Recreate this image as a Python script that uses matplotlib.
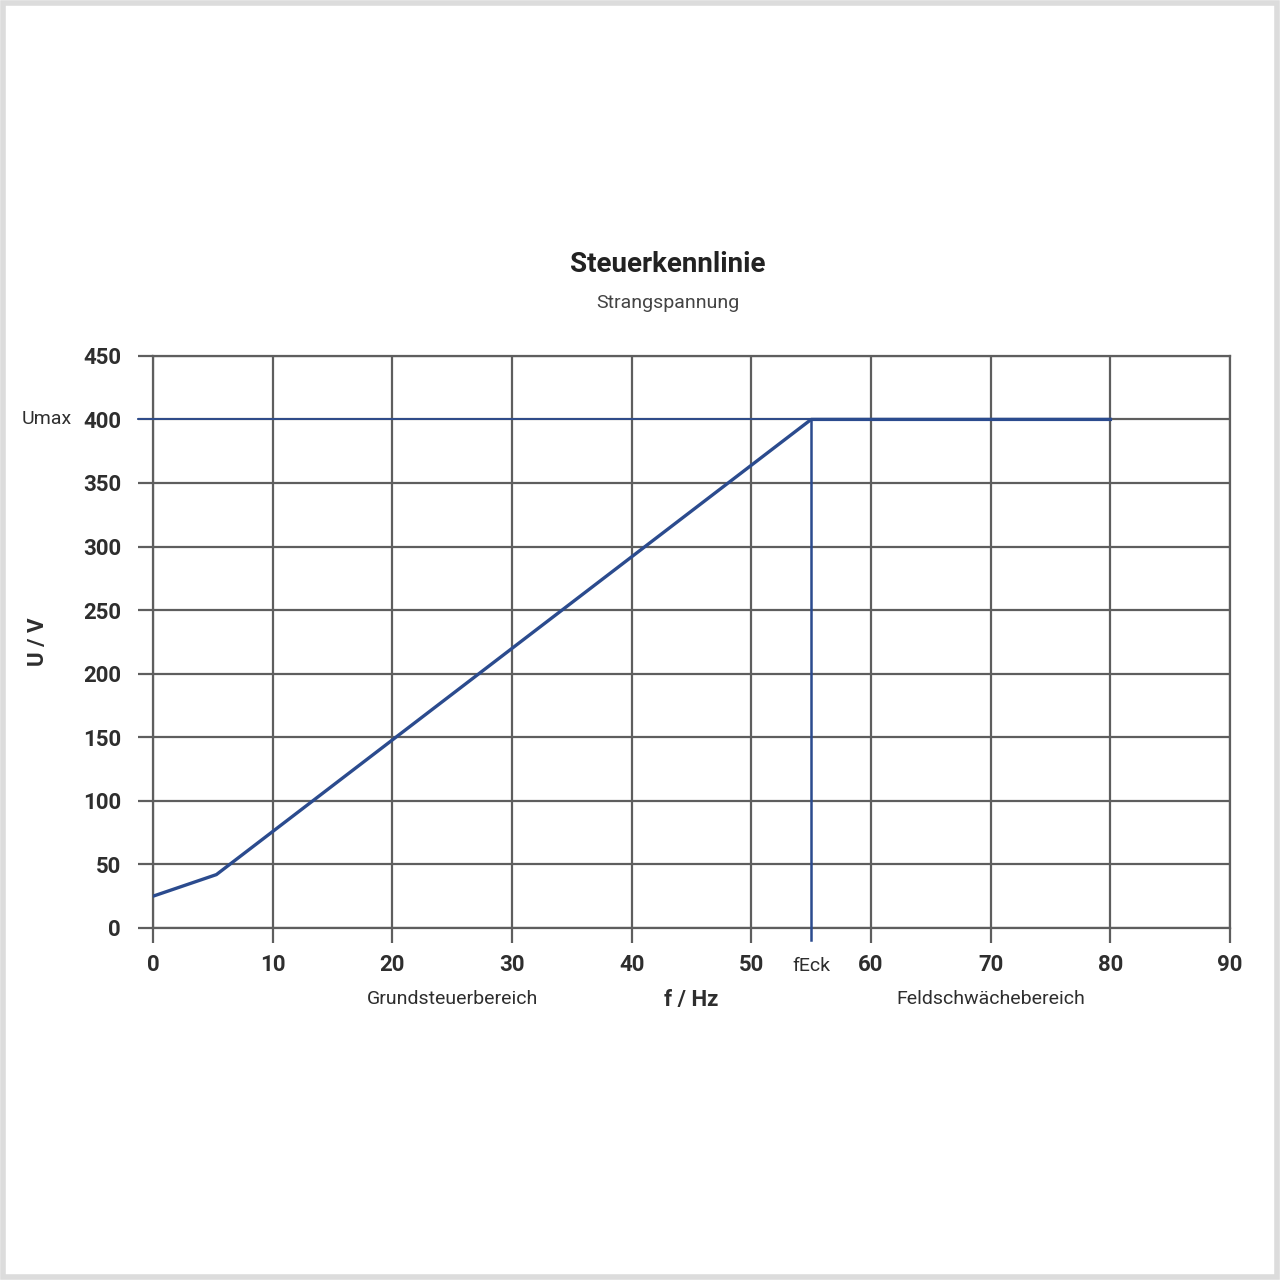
import matplotlib.pyplot as plt
from matplotlib.patches import Rectangle

# Kennlinie U(f)
freq = [0, 5.3, 55, 80]
volt = [25, 42, 400, 400]
f_eck = 55
u_max = 400
x_ticks = [0, 10, 20, 30, 40, 50, 60, 70, 80, 90]
y_ticks = [0, 50, 100, 150, 200, 250, 300, 350, 400, 450]

plt.rcParams['font.family'] = ['Roboto', 'DejaVu Sans']

BLUE = '#2b4b8e'
GRID = '#5e5e5e'
TXT = '#2e2e2e'

fig = plt.figure(figsize=(12.8, 12.8), dpi=100)
fig.patches.append(Rectangle((0.002, 0.002), 0.996, 0.996, transform=fig.transFigure,
                             fill=False, edgecolor='#dcdcdc', linewidth=4))
ax = fig.add_axes([0.1195, 0.275, 0.8415, 0.447])

ax.set_xlim(0, 90)
ax.set_ylim(0, 450)
ax.set_xticks(x_ticks)
ax.set_yticks(y_ticks)
ax.set_xticklabels([str(t) for t in x_ticks], fontsize=16, fontweight='bold', color=TXT)
ax.set_yticklabels([str(t) for t in y_ticks], fontsize=16, fontweight='bold', color=TXT)
ax.tick_params(axis='x', length=11, width=1.6, color=GRID, pad=8)
ax.tick_params(axis='y', length=11, width=1.6, color=GRID, pad=12)
ax.grid(True, color=GRID, linewidth=1.6)
for s in ax.spines.values():
    s.set_color(GRID)
    s.set_linewidth(1.6)

# Umax Linie und fEck Linie
ax.plot([-1.25, f_eck], [u_max, u_max], color=BLUE, linewidth=1.3, clip_on=False, zorder=3)
ax.plot([f_eck, f_eck], [-9.5, u_max], color=BLUE, linewidth=1.8, clip_on=False, zorder=3)
ax.plot(freq, volt, color=BLUE, linewidth=2.4, zorder=4, solid_joinstyle='round')

ax.text(f_eck, -30, 'fEck', ha='center', va='center', fontsize=14, color=TXT)
ax.text(-6.8, u_max, 'Umax', ha='right', va='center', fontsize=14, color=TXT)
ax.text(25, -56, 'Grundsteuerbereich', ha='center', va='center', fontsize=14, color=TXT)
ax.text(70, -56, 'Feldschwächebereich', ha='center', va='center', fontsize=14, color=TXT)
ax.text(45, -57, 'f / Hz', ha='center', va='center', fontsize=16, fontweight='bold', color=TXT)
ax.text(-9.6, 225, 'U / V', ha='center', va='center', rotation=90, fontsize=16,
        fontweight='bold', color=TXT)

fig.text(0.522, 0.793, 'Steuerkennlinie', ha='center', va='center', fontsize=20,
         fontweight='bold', color='#222222')
fig.text(0.522, 0.763, 'Strangspannung', ha='center', va='center', fontsize=14, color='#444444')

fig.savefig('out.png', dpi=100, facecolor='white')
